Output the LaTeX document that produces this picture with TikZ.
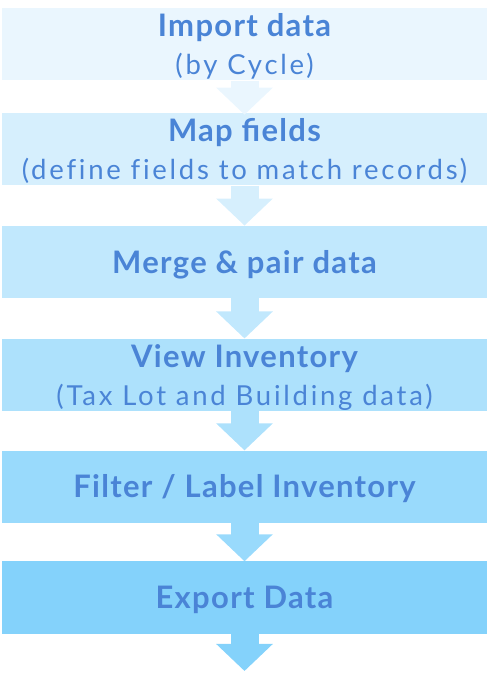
\documentclass[tikz,border=0pt]{standalone}
\usepackage{fontspec}
\setmainfont{Lato}
\newfontfamily\stephead{Lato}[LetterSpace=4.2]
\newfontfamily\stepsub{Lato}[LetterSpace=10,Ligatures=NoCommon]
\usetikzlibrary{positioning,arrows.meta}

\definecolor{stepA}{HTML}{EAF6FE}
\definecolor{stepB}{HTML}{D6EFFD}
\definecolor{stepC}{HTML}{C1E8FD}
\definecolor{stepD}{HTML}{ADE1FC}
\definecolor{stepE}{HTML}{99DAFC}
\definecolor{stepF}{HTML}{84D2FB}
\definecolor{steptext}{HTML}{4A84D6}

\begin{document}
\begin{tikzpicture}[x=1pt,y=1pt,node distance=40pt,
                    >={Triangle[width=55pt,length=27pt]}]

  \tikzstyle{stepbox}=[rectangle,minimum width=485pt,minimum height=72.5pt,
                       inner sep=0pt,align=center,text=steptext,
                       font=\stepsub\fontsize{27.5}{38}\selectfont,
                       text height=22pt,text depth=0pt]
  \tikzstyle{twoline}=[text height=61.5pt,text depth=0pt]
  \tikzstyle{flow}=[->,line width=28pt]

  \useasboundingbox (0,0) rectangle (487,679);

  \node[stepbox,twoline,fill=stepA] (IMP) at (244.5,634.75)
        {{\stephead\bfseries\fontsize{31}{38}\selectfont Import data}\\(by Cycle)};
  \node[stepbox,twoline,fill=stepB] (MAP) [below=32pt of IMP]
        {{\stephead\bfseries\fontsize{31}{38}\selectfont Map fields}\\(define fields to match records)};
  \node[stepbox,fill=stepC] (MRG) [below=of MAP]
        {\stephead\bfseries\fontsize{31}{38}\selectfont Merge \& pair data};
  \node[stepbox,twoline,fill=stepD] (INV) [below=of MRG]
        {{\stephead\bfseries\fontsize{31}{38}\selectfont View Inventory}\\(Tax Lot and Building data)};
  \node[stepbox,fill=stepE] (FLT) [below=39pt of INV]
        {\stephead\bfseries\fontsize{31}{38}\selectfont Filter / Label Inventory};
  \node[stepbox,fill=stepF] (EXP) [below=38pt of FLT]
        {\stephead\bfseries\fontsize{31}{38}\selectfont Export Data};
  \coordinate (END) at (244.5,8);

  \draw[flow,stepA] (IMP.south) -- ([yshift=-2pt]MAP.north);
  \draw[flow,stepB] (MAP.south) -- (MRG.north);
  \draw[flow,stepC] (MRG.south) -- (INV.north);
  \draw[flow,stepD] (INV.south) -- (FLT.north);
  \draw[flow,stepE] (FLT.south) -- (EXP.north);
  \draw[flow,stepF] (EXP.south) -- (END);
\end{tikzpicture}
\end{document}
